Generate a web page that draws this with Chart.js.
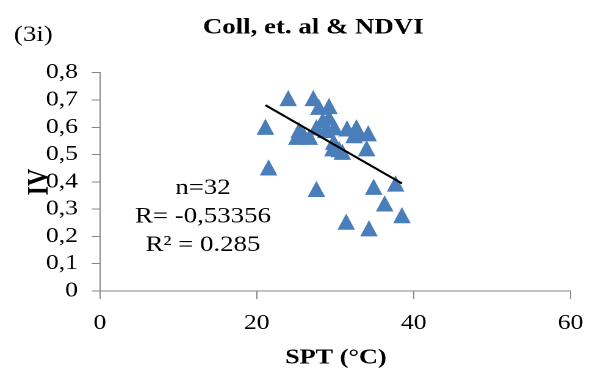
<!DOCTYPE html>
<html>
<head>
<meta charset="utf-8">
<script src="https://cdn.jsdelivr.net/npm/chart.js@4"></script>
<style>
    html, body { margin: 0; padding: 0; background: #fff; overflow: hidden; }
    /* the reference text is stretched sideways, so the whole chart is drawn narrow and widened */
    #wrap { width: 490px; height: 373px; transform: scaleX(1.2204); transform-origin: 0 0; }
</style>
</head>
<body>
<div id="wrap"><canvas id="result_chart" width="490" height="373"></canvas></div>
<script>
const spt = [24.0, 27.2, 29.2, 27.9, 21.1, 25.4, 25.1, 26.7, 27.6, 28.4, 29.2, 29.9, 31.5, 32.7, 32.4, 34.2,
             29.8, 29.7, 30.9, 34.0, 21.5, 27.6, 34.9, 37.7, 31.4, 34.3, 36.3, 38.5, 26.0, 28.8, 30.5, 33.0];
const iv  = [0.707, 0.707, 0.678, 0.675, 0.602, 0.59, 0.565, 0.565, 0.60, 0.626, 0.636, 0.60, 0.596, 0.60, 0.571, 0.578,
             0.547, 0.523, 0.51, 0.523, 0.453, 0.374, 0.382, 0.394, 0.254, 0.23, 0.321, 0.278, 0.57, 0.59, 0.52, 0.58];

const trendX = [21.1, 38.5];
const trendY = [0.681, 0.394];

const xTicks = [0, 20, 40, 60];
const yTickLabels = ['0', '0,1', '0,2', '0,3', '0,4', '0,5', '0,6', '0,7', '0,8'];

const chartTitle = 'Coll, et. al & NDVI';
const panelLabel = '(3i)';
const xTitle = 'SPT (°C)';
const yTitle = 'IV';
const statLines = ['n=32', 'R= -0,53356', 'R² = 0.285'];

const serif = "'Liberation Serif', 'Times New Roman', serif";
const axisGrey = '#868686';
const markerBlue = '#4a7ebb';

const textPlugin = {
    id: 'texts',
    afterDraw(chart) {
        const ctx = chart.ctx;
        ctx.save();
        ctx.fillStyle = '#000';
        ctx.textBaseline = 'middle';

        ctx.textAlign = 'center';
        ctx.font = 'bold 22px ' + serif;
        ctx.fillText(chartTitle, 256.7, 28);

        ctx.font = '22px ' + serif;
        ctx.fillText(panelLabel, 27.3, 35);

        ctx.font = 'bold 21.5px ' + serif;
        ctx.fillText(xTitle, 275.2, 358);

        // stats box in the plot
        ctx.font = '22px ' + serif;
        statLines.forEach((line, i) => ctx.fillText(line, 166.3, 188 + i * 28.5));

        // y title sits over the tick labels, as in the reference
        ctx.translate(32, 182);
        ctx.rotate(-Math.PI / 2);
        ctx.font = 'bold 24px ' + serif;
        ctx.fillText(yTitle, 0, 1);
        ctx.restore();
    }
};

function makeChart(marker) {
    const ctx = document.getElementById('result_chart').getContext('2d');
    new Chart(ctx, {
        type: 'scatter',
        data: {
            datasets: [{
                label: 'IV',
                data: spt.map((x, i) => ({x, y: iv[i]})),
                pointStyle: marker,
                backgroundColor: markerBlue,
                borderColor: markerBlue,
                order: 1
            }, {
                type: 'line',
                label: 'trend',
                data: trendX.map((x, i) => ({x, y: trendY[i]})),
                borderColor: '#000',
                borderWidth: 2,
                pointRadius: 0,
                fill: false,
                order: 0
            }]
        },
        options: {
            responsive: false,
            animation: false,
            devicePixelRatio: 2,
            layout: {padding: {top: 72.7, right: 21.6, left: 0, bottom: 0}},
            plugins: {legend: {display: false}, title: {display: false}, tooltip: {enabled: false}},
            scales: {
                x: {
                    type: 'linear',
                    min: 0, max: 60,
                    afterBuildTicks: axis => { axis.ticks = xTicks.map(v => ({value: v})); },
                    afterFit: axis => { axis.height = 82; },
                    grid: {drawOnChartArea: false, drawTicks: true, tickLength: 8, color: axisGrey},
                    border: {color: axisGrey, width: 1},
                    ticks: {color: '#000', font: {family: serif, size: 21}, padding: 12, maxRotation: 0, autoSkip: false}
                },
                y: {
                    type: 'linear',
                    min: 0, max: 0.8,
                    afterBuildTicks: axis => { axis.ticks = yTickLabels.map((t, i) => ({value: i / 10})); },
                    afterFit: axis => { axis.width = 81.9; },
                    grid: {drawOnChartArea: false, drawTicks: true, tickLength: 6.6, color: axisGrey},
                    border: {color: axisGrey, width: 1},
                    ticks: {
                        color: '#000', font: {family: serif, size: 21}, padding: 11.4, autoSkip: false,
                        callback: (v, i) => yTickLabels[i]
                    }
                }
            }
        },
        plugins: [textPlugin]
    });
}

// Excel triangle: a bit taller than the stretched-out width
const triSvg = '<svg xmlns="http://www.w3.org/2000/svg" width="15" height="17" viewBox="0 0 15 17">' +
    '<path d="M7.5 0.4 L14.7 16.6 L0.3 16.6 Z" fill="' + markerBlue + '"/></svg>';
const marker = new Image(15, 17);
marker.onload = () => makeChart(marker);
marker.src = 'data:image/svg+xml;charset=utf-8,' + encodeURIComponent(triSvg);
</script>
</body>
</html>
